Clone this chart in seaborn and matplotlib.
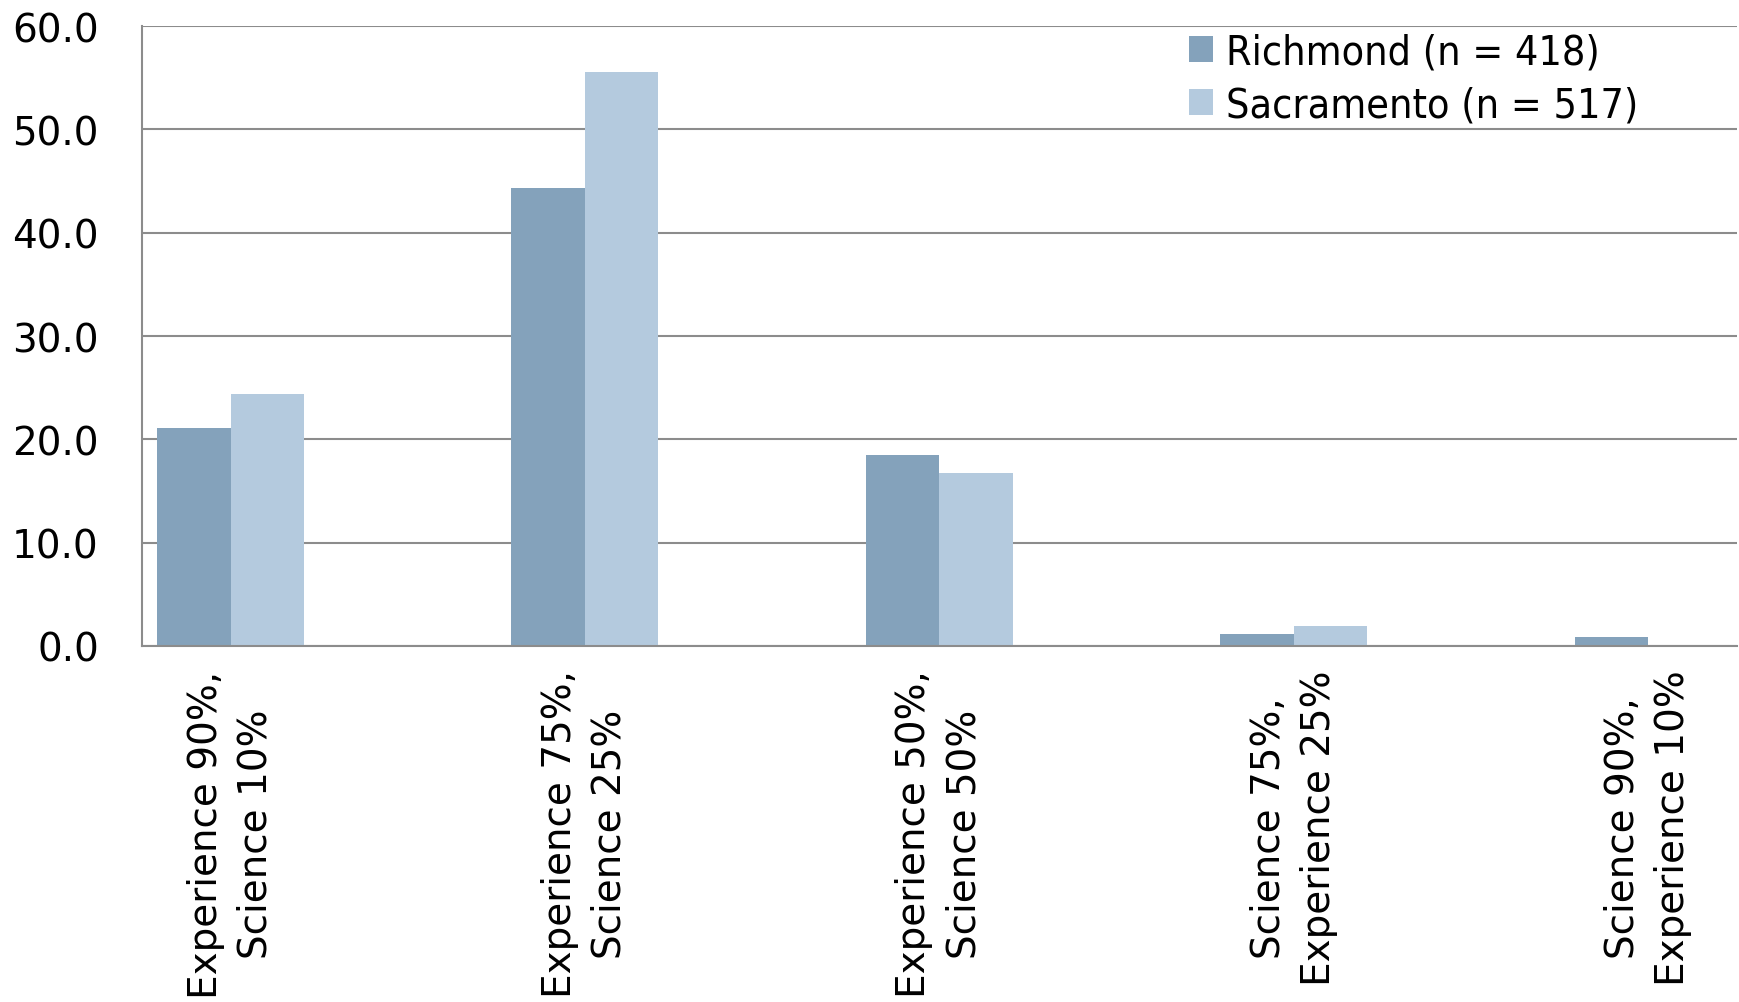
import numpy as np
import pandas as pd
import matplotlib
matplotlib.use("Agg")
import matplotlib.pyplot as plt
import seaborn as sns

# data (percent)
categories = ["Experience 90%,\nScience 10%",
              "Experience 75%,\nScience 25%",
              "Experience 50%,\nScience 50%",
              "Science 75%,\nExperience 25%",
              "Science 90%,\nExperience 10%"]
richmond = [21.1, 44.3, 18.5, 1.2, 0.9]
sacramento = [24.4, 55.6, 16.7, 1.9, 0.0]
series = ["Richmond (n = 418)", "Sacramento (n = 517)"]
colors = ["#84A2BB", "#B4CADE"]

df = pd.DataFrame({
    "cat": categories * 2,
    "city": [series[0]] * 5 + [series[1]] * 5,
    "pct": richmond + sacramento,
})

# the original chart leaves an empty slot between categories
order = []
for i, c in enumerate(categories):
    order.append(c)
    if i < len(categories) - 1:
        order.append(" " * (i + 1))

sns.set_style("white")
plt.rcParams["font.family"] = ["DejaVu Sans"]
plt.rcParams["text.color"] = "black"
plt.rcParams["xtick.labelcolor"] = "black"
plt.rcParams["ytick.labelcolor"] = "black"

fig = plt.figure(figsize=(17.4, 10.03), dpi=100)
ax = fig.add_axes([0.0816, 0.355, 0.9165, 0.618])

sns.barplot(data=df, x="cat", y="pct", hue="city", order=order,
            palette=colors, saturation=1, width=0.83, linewidth=0,
            ax=ax, legend=True)

grid_c = "#8C8C8C"
ax.set_ylim(0, 60)
ax.set_xlim(-0.5, len(order) - 0.5)
ax.set_yticks(np.arange(0, 61, 10))
ax.set_yticklabels([f"{v:.1f}" for v in np.arange(0, 61, 10)], fontsize=28)
ax.yaxis.grid(True, color=grid_c, linewidth=1.5)
ax.set_axisbelow(True)

ax.set_xticks(np.arange(0, len(order), 2))
ax.set_xticklabels(categories, rotation=90, fontsize=28, va="top",
                   ha="center", multialignment="center", linespacing=1.4)
ax.set_xticks(np.arange(-0.5, len(order), 1), minor=True)
ax.tick_params(axis="x", which="major", length=0, pad=17)
ax.tick_params(axis="x", which="minor", length=10, width=1.5, color=grid_c)
ax.tick_params(axis="y", length=10, width=1.5, color=grid_c, pad=21)

for s in ["top", "right"]:
    ax.spines[s].set_visible(False)
for s in ["left", "bottom"]:
    ax.spines[s].set_color(grid_c)
    ax.spines[s].set_linewidth(1.5)

ax.set_xlabel("")
ax.set_ylabel("")

ax.legend(loc="upper left", bbox_to_anchor=(0.6715, 0.987),
          bbox_transform=fig.transFigure, frameon=False,
          prop={"size": 29.5, "stretch": "condensed"},
          handlelength=0.6, handleheight=0.6, handletextpad=0.3,
          labelspacing=0.32, borderpad=0)

fig.savefig("out.png", dpi=100)
